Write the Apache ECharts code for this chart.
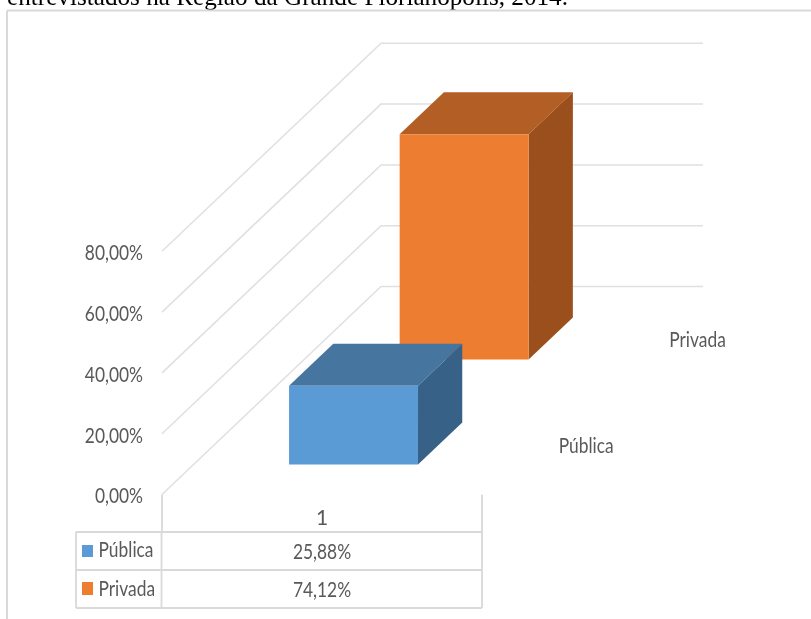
<!DOCTYPE html>
<html><head><meta charset="utf-8">
<style>html,body{margin:0;padding:0;background:#fff}#c{width:811px;height:619px}</style>
<script src="https://cdn.jsdelivr.net/npm/echarts@6/dist/echarts.min.js"></script>
</head><body><div id="c"></div>
<script>
const titleText = 'entrevistados na Região da Grande Florianópolis, 2014.';
const categories = ['1'];
const seriesNames = ['Pública', 'Privada'];
const publica = [25.88];
const privada = [74.12];
const yTicks = [0, 20, 40, 60, 80];
const frontColors = ['#5B9BD5', '#ED7D31'];
const topColors = ['#4675A0', '#B35E24'];
const sideColors = ['#376186', '#9A4F1C'];

const fmt = v => v.toFixed(2).replace('.', ',') + '%';
const FONT = 'Lato,sans-serif';
const FSIZE = 22, SX = 0.79;
const GRID = '#e0e0e0', TEXT = '#595959', TBL = '#d9d9d9';
// oblique projection of the depth axis
const DX = 219, DY = -208;
const slotDepth = [0.245, 0.75], halfDepth = 0.101, barFrac = 0.403;
const txtStyle = (text, align) => ({text, font: FSIZE + 'px ' + FONT, fill: TEXT, textAlign: align, textVerticalAlign: 'middle'});

function wallItem(params, api) {
  const p = api.coord([0, api.value(0)]);
  const w = api.size([1, 0])[0];
  const x0 = p[0] - w / 2;
  return {type: 'group', silent: true, children: [
    {type: 'polyline', shape: {points: [[x0, p[1]], [x0 + DX, p[1] + DY], [x0 + DX + w + 2, p[1] + DY]]},
      style: {stroke: GRID, lineWidth: 1.5, fill: null}},
    {type: 'text', x: x0 - 19, y: p[1] + 1.8, scaleX: SX, style: txtStyle(fmt(api.value(0)), 'right')}
  ]};
}
function barItem(idx) {
  return function (params, api) {
    const base = api.coord([api.value(0), 0]);
    const top = api.coord([api.value(0), api.value(1)]);
    const bw = api.size([1, 0])[0] * barFrac;
    const d0 = slotDepth[idx] - halfDepth, d1 = slotDepth[idx] + halfDepth;
    const xl = base[0] - bw / 2 + d0 * DX, xr = xl + bw;
    const yb = base[1] + d0 * DY, yt = top[1] + d0 * DY;
    const ox = (d1 - d0) * DX, oy = (d1 - d0) * DY;
    return {type: 'group', children: [
      {type: 'polygon', shape: {points: [[xl, yt], [xr, yt], [xr + ox, yt + oy], [xl + ox, yt + oy]]}, style: {fill: topColors[idx]}},
      {type: 'polygon', shape: {points: [[xr, yt], [xr + ox, yt + oy], [xr + ox, yb + oy], [xr, yb]]}, style: {fill: sideColors[idx]}},
      {type: 'rect', shape: {x: xl, y: yt, width: bw, height: yb - yt}, style: {fill: frontColors[idx]}}
    ]};
  };
}
function depthLabelItem(idx, dy) {
  return function (params, api) {
    const p = api.coord([0, 0]);
    const w = api.size([1, 0])[0];
    return {type: 'text', silent: true, scaleX: SX,
      x: p[0] + w / 2 + slotDepth[idx] * DX + 23, y: p[1] + slotDepth[idx] * DY + dy,
      style: txtStyle(seriesNames[idx], 'left')};
  };
}

const L = 76, M = 161.5, R = 482, T = 532, R1 = 570, B = 608;
const line = (x1, y1, x2, y2, stroke, lw) => ({type: 'line', silent: true, shape: {x1, y1, x2, y2}, style: {stroke, lineWidth: lw}});
const label = (x, y, text, align) => ({type: 'text', silent: true, x, y, scaleX: SX, style: txtStyle(text, align)});
const graphics = [
  {type: 'text', silent: true, x: 7, y: 10.5, style: {text: titleText, font: '25.2px "Liberation Serif"', fill: '#000', textAlign: 'left', textVerticalAlign: 'bottom'}},
  line(7, 10.5, 811, 10.5, TBL, 2),
  line(7, 10.5, 7, 619, TBL, 2),
  line(L, T, R, T, TBL, 1.8), line(L, R1, R, R1, TBL, 1.8), line(L, B, R, B, TBL, 1.8),
  line(L, T, L, B, TBL, 1.8), line(M, T, M, B, TBL, 1.8), line(R, T, R, B, TBL, 1.8),
  {type: 'rect', silent: true, shape: {x: 82, y: 545, width: 11, height: 12}, style: {fill: frontColors[0]}},
  {type: 'rect', silent: true, shape: {x: 82, y: 582, width: 11, height: 13}, style: {fill: frontColors[1]}},
  label(98.5, 550, seriesNames[0], 'left'), label(98.5, 588.5, seriesNames[1], 'left'),
  label(322, 551.5, fmt(publica[0]), 'center'), label(322, 590, fmt(privada[0]), 'center')
];

const option = {
  animation: false,
  backgroundColor: '#fff',
  grid: {left: 162, top: 251.3, width: 320, height: 243.2},
  xAxis: {type: 'category', data: categories, axisLine: {show: false},
    axisTick: {show: true, length: 38, lineStyle: {color: TBL, width: 1.8}},
    axisLabel: {margin: 13, fontFamily: FONT, fontSize: 21, color: TEXT},
    splitLine: {show: false}},
  yAxis: {type: 'value', min: 0, max: 80, interval: 20, axisLine: {show: false}, axisTick: {show: false},
    splitLine: {show: false}, axisLabel: {show: false}},
  graphic: graphics,
  series: [
    {type: 'custom', name: 'wall', coordinateSystem: 'cartesian2d', encode: {y: 0}, data: yTicks.map(v => [v]), renderItem: wallItem, z: 1, silent: true},
    {type: 'custom', name: seriesNames[1], data: categories.map((c, i) => [i, privada[i]]), renderItem: barItem(1), z: 2},
    {type: 'custom', name: seriesNames[0], data: categories.map((c, i) => [i, publica[i]]), renderItem: barItem(0), z: 3},
    {type: 'custom', data: [[0]], renderItem: depthLabelItem(0, 2), z: 4, silent: true},
    {type: 'custom', data: [[0]], renderItem: depthLabelItem(1, 1), z: 4, silent: true}
  ]
};
echarts.init(document.getElementById('c'), null, {renderer: 'canvas'}).setOption(option);
</script></body></html>
